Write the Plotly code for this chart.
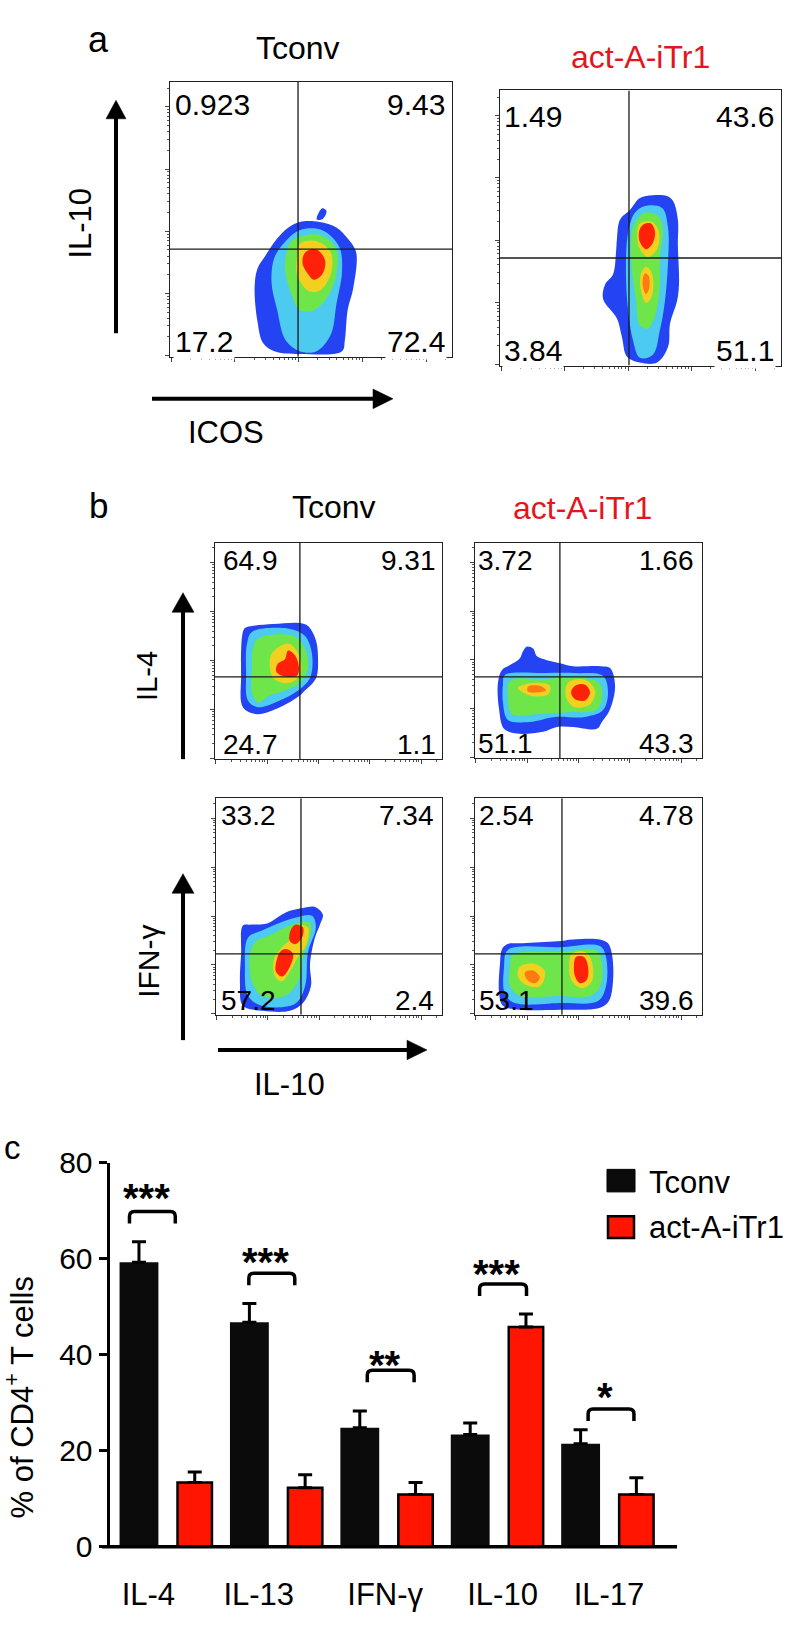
import math
import plotly.graph_objects as go

W, H = 793, 1625
FONT = "Liberation Sans, Arial, Helvetica, sans-serif"
RED_TXT = "#e3161d"

# ---------------- panel c : bar data ----------------
cytokines = ["IL-4", "IL-13", "IFN-γ", "IL-10", "IL-17"]
tconv_mean = [59.2, 46.7, 24.7, 23.3, 21.4]
tconv_sem = [4.3, 3.9, 3.5, 2.4, 2.9]
itr1_mean = [13.3, 12.2, 10.8, 45.7, 10.8]
itr1_sem = [2.2, 2.7, 2.5, 2.7, 3.5]
significance = ["***", "***", "**", "***", "*"]
bracket_top = [69.8, 56.9, 36.7, 54.7, 28.6]
star_level = [74.5, 61.2, 39.6, 58.6, 33.0]
y_ticks = [0, 20, 40, 60, 80]

# ---------------- panels a/b : quadrant frequencies ----------------
aT_quadrants = ["0.923", "9.43", "17.2", "72.4"]
aA_quadrants = ["1.49", "43.6", "3.84", "51.1"]
bT1_quadrants = ["64.9", "9.31", "24.7", "1.1"]
bA1_quadrants = ["3.72", "1.66", "51.1", "43.3"]
bT2_quadrants = ["33.2", "7.34", "57.2", "2.4"]
bA2_quadrants = ["2.54", "4.78", "53.1", "39.6"]

# quadrant gates (x, y) in % of axis
aT_gate = (45.4, 39.1)
aA_gate = (45.9, 39.1)
bT1_gate = (37.4, 38.0)
bA1_gate = (37.4, 37.7)
bT2_gate = (37.6, 28.1)
bA2_gate = (38.3, 28.1)

# density contour outlines (x %, y %)
aT_blue = [(46,49),(53,49),(59,47),(63,43),(66,38),(65,25),(63,17),(62,6),(61,2),(46,1),(37,2),(33,5),(31,13),(30,25),(31,32),(34,37),(38,43),(42,47)]
aT_spike = [(52,50),(54,54),(55.5,53),(54,50)]
aT_cyan = [(46,46),(54,46),(60,40),(61,31),(59,19),(57,8),(52,2),(46,2),(41,6),(38,17),(36,27),(37,36),(41,42)]
aT_green = [(47,44),(54,44),(59,39),(59,30),(56,22),(51,17),(46,17),(43,23),(41,30),(41,36),(43,42)]
aT_yellow = [(46,41),(52,42),(57,38),(57,30),(53,24),(49,24),(45,30),(45,36)]
aT_red = [(48,38),(52,39),(55,35),(54,30),(51,28),(49,30),(47,34)]

aA_blue = [(54.4,61.9),(59.4,61.6),(61.6,59.8),(63.3,53.0),(63.3,43.8),(63.7,29.5),(63.0,23.5),(60.5,15.3),(59.8,6.8),(55.9,1.1),(49.8,1.1),(45.2,3.2),(43.4,10.3),(41.6,17.1),(36.7,24.2),(37.4,29.5),(40.2,33.1),(41.3,41.3),(41.6,45.9),(42.7,53.0),(46.3,56.6),(49.8,60.9)]
aA_cyan = [(51.6,58.0),(57.7,57.3),(59.8,50.2),(59.8,37.7),(58.7,23.5),(56.9,12.8),(54.4,3.9),(49.8,2.8),(47.3,9.3),(45.6,19.9),(44.8,34.2),(45.6,48.4),(48.0,55.5)]
aA_green = [(51.6,55.5),(56.2,54.4),(58.0,49.5),(56.9,39.5),(56.9,28.8),(55.2,18.1),(52.7,13.5),(49.8,14.6),(48.4,23.5),(47.0,34.2),(46.6,43.1),(47.7,51.2)]
aA_yellow_hi = [(49.8,51.6),(54.1,52.3),(56.6,48.4),(55.9,42.3),(52.7,39.5),(49.8,42.3),(48.8,47.7)]
aA_yellow_lo = [(52.0,35.9),(54.1,33.5),(54.1,25.3),(52.0,22.8),(50.2,27.0),(50.2,33.5)]
aA_red_hi = [(50.9,51.2),(53.7,51.6),(55.2,48.4),(54.1,44.1),(52.0,42.3),(49.8,44.8),(49.5,48.8)]
aA_red_lo = [(51.6,33.5),(53.0,32.4),(53.0,27.8),(52.0,26.0),(50.9,28.5),(50.9,32.0)]

bT1_blue = [(14.1,61.1),(25.6,62.4),(37.4,62.9),(41.0,61.5),(44.5,54.8),(45.4,45.7),(44.9,38.5),(43.2,35.3),(39.6,31.7),(37.4,29.4),(28.6,24.0),(18.5,20.8),(12.3,24.0),(11.5,38.5),(11.9,56.6),(12.8,60.2)]
bT1_cyan = [(16.3,58.8),(33.0,60.2),(39.6,57.0),(42.7,48.9),(41.9,37.6),(36.6,31.7),(28.6,27.1),(18.9,24.0),(14.5,27.1),(13.7,39.8),(14.1,53.4)]
bT1_green = [(18.9,55.7),(34.4,57.0),(39.6,51.1),(41.0,42.1),(37.4,35.3),(30.8,31.7),(24.2,29.4),(18.9,26.2),(16.3,30.8),(16.3,42.1),(16.7,51.1)]
bT1_yellow = [(25.1,48.9),(32.2,53.4),(36.6,48.9),(37.9,39.8),(33.0,35.3),(26.4,36.7),(24.2,42.1)]
bT1_red = [(32.2,50.2),(35.2,48.0),(37.0,42.1),(36.1,38.5),(29.5,38.5),(26.9,40.7),(27.8,44.3),(30.8,46.2)]

bA1_blue = [(22.9,51.8),(25.6,50.9),(27.3,47.3),(31.7,45.5),(37.4,44.1),(43.2,42.7),(55.1,42.7),(59.5,41.8),(61.7,33.6),(59.5,22.7),(55.9,16.8),(53.7,13.6),(43.2,14.5),(36.1,14.5),(30.0,12.3),(18.5,11.4),(12.8,13.6),(10.6,22.7),(10.1,35.0),(11.9,40.9),(15.4,43.2),(19.8,46.4),(21.1,49.5)]
bA1_cyan = [(13.2,38.6),(30.8,39.5),(44.1,39.5),(56.4,38.2),(58.6,30.5),(56.4,22.3),(48.5,19.1),(35.2,19.1),(24.2,16.8),(14.5,17.7),(12.3,25.9),(12.3,34.1)]
bA1_green = [(15.4,35.9),(30.8,36.8),(46.3,37.3),(54.6,35.0),(56.0,28.2),(53.3,22.3),(41.9,21.4),(28.6,20.5),(16.3,20.5),(14.5,28.2)]
bA1_yellow_l = [(18.9,32.7),(26.4,35.0),(33.0,33.6),(32.2,29.5),(24.2,29.1)]
bA1_yellow_r = [(41.0,35.0),(48.5,36.4),(52.9,31.4),(50.7,25.0),(44.1,23.6),(40.1,28.2)]
bA1_red_l = [(23.3,33.2),(28.6,33.6),(31.3,31.4),(27.3,30.5),(23.3,30.9)]
bA1_red_r = [(44.1,33.6),(48.5,34.1),(50.7,30.5),(48.5,26.8),(44.1,27.3),(42.3,30.5)]

bT2_blue = [(38.5,49.3),(43.8,49.8),(47.3,46.2),(46.0,41.6),(43.8,35.7),(41.6,23.5),(42.0,13.1),(38.5,5.4),(32.7,1.8),(20.8,1.8),(11.9,4.1),(10.6,14.5),(11.1,28.1),(11.9,41.2),(15.0,41.6),(22.6,42.1),(28.3,45.7),(32.7,48.0)]
bT2_cyan = [(35.0,44.8),(42.5,45.7),(44.2,40.3),(40.7,29.0),(39.4,13.1),(35.0,5.0),(20.4,4.1),(14.2,8.6),(12.8,22.2),(14.2,35.7),(20.4,38.9),(28.3,42.5)]
bT2_green = [(36.3,42.5),(41.6,42.5),(42.0,38.0),(38.5,26.7),(36.3,15.4),(30.5,8.6),(20.4,8.6),(15.9,15.4),(15.0,26.7),(17.3,33.5),(23.9,36.7),(30.5,40.3)]
bT2_yellow = [(35.4,41.2),(40.7,40.3),(39.8,32.1),(36.3,26.7),(32.7,19.9),(29.2,15.4),(26.1,17.6),(25.7,25.8),(29.2,31.2),(33.6,35.7)]
bT2_red_hi = [(35.0,41.6),(38.5,40.3),(38.1,35.7),(35.0,32.6),(32.7,33.9),(32.7,38.0)]
bT2_red_lo = [(31.0,30.3),(34.1,28.1),(32.7,22.2),(29.2,17.6),(26.5,19.9),(27.0,25.8),(28.3,29.0)]

bA2_blue = [(14.1,32.6),(21.1,33.0),(36.1,33.9),(43.2,34.8),(55.1,34.8),(58.6,33.0),(60.4,27.6),(60.8,15.4),(59.0,6.3),(55.1,3.2),(37.4,2.3),(19.8,2.3),(12.3,4.1),(10.6,10.0),(11.0,23.5),(11.9,30.3)]
bA2_cyan = [(14.5,29.9),(37.4,31.2),(55.1,31.7),(57.7,26.7),(57.7,13.1),(54.2,6.3),(37.4,5.4),(17.6,5.4),(13.2,9.5),(12.8,22.2)]
bA2_green = [(16.7,27.6),(37.4,29.0),(53.7,29.4),(55.9,24.4),(55.1,13.1),(50.7,8.6),(37.4,8.6),(19.8,8.6),(15.4,13.1),(15.4,22.2)]
bA2_yellow_l = [(19.8,22.2),(26.4,23.5),(30.8,19.9),(28.6,13.1),(22.0,14.0),(18.9,17.6)]
bA2_yellow_r = [(42.7,28.1),(48.5,29.0),(51.5,24.4),(51.5,15.4),(47.1,12.2),(42.7,15.4),(41.4,22.2)]
bA2_red_l = [(22.0,19.5),(25.6,20.4),(28.6,17.2),(26.4,14.5),(22.9,16.3)]
bA2_red_r = [(44.5,26.7),(48.0,26.7),(49.8,22.2),(49.3,16.3),(46.3,14.5),(44.1,17.6),(43.6,23.1)]

# ---------------- styling ----------------
C_BLUE, C_CYAN, C_GREEN, C_YELLOW, C_ORANGE, C_RED = "#2443f2", "#4ccaf0", "#6ee64a", "#f2d020", "#ff7a10", "#ff2208"
label_offset = [-0.163, -0.163, -0.018, 0.045, 0.009]   # Prism places some category labels off-centre


def X(px):
    return px / W


def Y(py):
    return 1 - py / H


fig = go.Figure()
shapes = []
ann = []
axes = {}

# ---------------- panel c : bars ----------------
idx = list(range(len(cytokines)))
fig.add_trace(go.Bar(
    x=idx, y=tconv_mean, width=0.352, offset=-0.424, name="Tconv",
    marker=dict(color="#0b0b0b", line=dict(width=0)),
    error_y=dict(type="data", symmetric=False, array=tconv_sem, arrayminus=[0] * len(idx),
                 color="black", thickness=3, width=7),
    showlegend=False, xaxis="x", yaxis="y", hoverinfo="skip"))
fig.add_trace(go.Bar(
    x=idx, y=itr1_mean, width=0.312, offset=0.101, name="act-A-iTr1",
    marker=dict(color="#ff1500", line=dict(color="black", width=2.5)),
    error_y=dict(type="data", symmetric=False, array=itr1_sem, arrayminus=[0] * len(idx),
                 color="black", thickness=3, width=7),
    showlegend=False, xaxis="x", yaxis="y", hoverinfo="skip"))

axes["xaxis"] = dict(domain=[X(109.5), X(677)], range=[-0.515, 4.625],
                     tickvals=[i + o for i, o in zip(idx, label_offset)], ticktext=cytokines,
                     ticks="outside", ticklen=20, tickcolor="rgba(0,0,0,0)", showline=False,
                     showgrid=False, zeroline=False, tickfont=dict(family=FONT, size=31, color="black"),
                     anchor="y", fixedrange=True)
axes["yaxis"] = dict(domain=[Y(1562), Y(1170)], range=[0, 80], tickvals=y_ticks, ticks="outside",
                     ticklen=8, tickwidth=3, tickcolor="black", showline=True, linewidth=3,
                     linecolor="black", showgrid=False, zeroline=False,
                     tickfont=dict(family=FONT, size=30, color="black"), anchor="x", fixedrange=True)
shapes.append(dict(type="line", xref="paper", yref="paper", x0=X(102), x1=X(677), y0=Y(1562.5), y1=Y(1562.5),
                   line=dict(color="black", width=3.5)))

bracket_lr = [(-0.334, 0.081), (-0.253, 0.163), (-0.18, 0.244), (-0.163, 0.262), (-0.18, 0.235)]
for i, ((l, r), top, star, sl) in enumerate(zip(bracket_lr, bracket_top, significance, star_level)):
    x1, x2 = i + l, i + r
    yb = top - 2.5
    dx, dy = 0.045, 1.0
    path = (f"M {x1},{yb} L {x1},{top - dy} Q {x1},{top} {x1 + dx},{top} "
            f"L {x2 - dx},{top} Q {x2},{top} {x2},{top - dy} L {x2},{yb}")
    shapes.append(dict(type="path", xref="x", yref="y", path=path, line=dict(color="black", width=3.5)))
    ann.append(dict(x=(x1 + x2) / 2 - 0.055, y=sl, xref="x", yref="y", text=f"<b>{star}</b>", showarrow=False,
                    yshift=-9, font=dict(family=FONT, size=40, color="black"), xanchor="center", yanchor="middle"))

ann.append(dict(x=X(20), y=Y(1410), xref="paper", yref="paper", text="% of CD4<sup>+</sup> T cells",
                textangle=-90, showarrow=False, font=dict(family=FONT, size=31, color="black"),
                xanchor="center", yanchor="middle"))

# legend swatches
shapes.append(dict(type="rect", xref="paper", yref="paper", x0=X(607), x1=X(635), y0=Y(1200), y1=Y(1177),
                   fillcolor="#0b0b0b", line=dict(color="black", width=1)))
shapes.append(dict(type="rect", xref="paper", yref="paper", x0=X(608), x1=X(634), y0=Y(1247), y1=Y(1225),
                   fillcolor="#ff1500", line=dict(color="black", width=2.5)))
for name, cy in zip(["Tconv", "act-A-iTr1"], [1190, 1236]):
    ann.append(dict(x=X(647), y=Y(cy), xref="paper", yref="paper", text=name, showarrow=False,
                    font=dict(family=FONT, size=31, color="black"), xanchor="left", yanchor="middle"))

# ---------------- panels a/b : flow plots ----------------
major = [0.4, 23.0, 45.6, 68.2, 90.8]
minor = [d + 22.6 * math.log10(k) for d in major for k in range(2, 10) if d + 22.6 * math.log10(k) < 100]

plots = [
    dict(n=2, box=(170, 66, 452, 347), q=aT_quadrants, gate=aT_gate, fs=30, sh=(3, -5, -4, -3), bg=True,
         levels=[(C_BLUE, [aT_blue, aT_spike]), (C_CYAN, [aT_cyan]), (C_GREEN, [aT_green]),
                 (C_YELLOW, [aT_yellow]), (C_RED, [aT_red])]),
    dict(n=3, box=(500, 75, 781, 356), q=aA_quadrants, gate=aA_gate, fs=30, sh=(2, -5, -8, -3), bg=True,
         levels=[(C_BLUE, [aA_blue]), (C_CYAN, [aA_cyan]), (C_GREEN, [aA_green]),
                 (C_YELLOW, [aA_yellow_hi, aA_yellow_lo]), (C_RED, [aA_red_hi]), (C_ORANGE, [aA_red_lo])]),
    dict(n=4, box=(215, 537, 442, 758), q=bT1_quadrants, gate=bT1_gate, fs=28, sh=(6, -4, 0, -3), bg=False,
         levels=[(C_BLUE, [bT1_blue]), (C_CYAN, [bT1_cyan]), (C_GREEN, [bT1_green]),
                 (C_YELLOW, [bT1_yellow]), (C_RED, [bT1_red])]),
    dict(n=5, box=(475, 537, 702, 757), q=bA1_quadrants, gate=bA1_gate, fs=28, sh=(1, -6, 0, -3), bg=False,
         levels=[(C_BLUE, [bA1_blue]), (C_CYAN, [bA1_cyan]), (C_GREEN, [bA1_green]),
                 (C_YELLOW, [bA1_yellow_l, bA1_yellow_r]), (C_ORANGE, [bA1_red_l]), (C_RED, [bA1_red_r])]),
    dict(n=6, box=(216, 798, 442, 1019), q=bT2_quadrants, gate=bT2_gate, fs=28, sh=(3, -6, 0, -3), bg=False,
         levels=[(C_BLUE, [bT2_blue]), (C_CYAN, [bT2_cyan]), (C_GREEN, [bT2_green]),
                 (C_YELLOW, [bT2_yellow]), (C_RED, [bT2_red_hi, bT2_red_lo])]),
    dict(n=7, box=(475, 798, 702, 1019), q=bA2_quadrants, gate=bA2_gate, fs=28, sh=(2, -6, 0, -3), bg=False,
         levels=[(C_BLUE, [bA2_blue]), (C_CYAN, [bA2_cyan]), (C_GREEN, [bA2_green]),
                 (C_YELLOW, [bA2_yellow_l, bA2_yellow_r]), (C_ORANGE, [bA2_red_l]), (C_RED, [bA2_red_r])]),
]

for p in plots:
    n = p["n"]
    x0, y0, x1, y1 = p["box"]
    xa, ya = f"x{n}", f"y{n}"
    common = dict(range=[0, 100], showline=True, mirror=True, linecolor="#222", linewidth=1.2,
                  ticks="outside", tickvals=major, ticklen=4, tickwidth=1, tickcolor="#444",
                  showticklabels=False, showgrid=False, zeroline=False, fixedrange=True,
                  minor=dict(tickmode="array", tickvals=minor, ticks="outside", ticklen=2,
                             tickwidth=1, tickcolor="#555", showgrid=False))
    axes[f"xaxis{n}"] = dict(domain=[X(x0), X(x1)], anchor=ya, **common)
    axes[f"yaxis{n}"] = dict(domain=[Y(y1), Y(y0)], anchor=xa, **common)

    for color, polys in p["levels"]:
        for poly in polys:
            xs = [pt[0] for pt in poly]
            ys = [pt[1] for pt in poly]
            fig.add_trace(go.Scatter(x=xs + [xs[0]], y=ys + [ys[0]], mode="lines", fill="toself",
                                     fillcolor=color, line=dict(width=0, shape="spline", smoothing=1.0, color=color),
                                     xaxis=xa, yaxis=ya, hoverinfo="skip", showlegend=False))

    gx, gy = p["gate"]
    shapes.append(dict(type="line", xref=xa, yref=ya, x0=gx, x1=gx, y0=0, y1=100, line=dict(color="#1a1a1a", width=1.3)))
    shapes.append(dict(type="line", xref=xa, yref=ya, x0=0, x1=100, y0=gy, y1=gy, line=dict(color="#1a1a1a", width=1.3)))

    sl, sr, st, sb = p["sh"]
    ul, ur, ll, lr = p["q"]
    qf = dict(family=FONT, size=p["fs"], color="black")
    dx, dy = f"{xa} domain", f"{ya} domain"
    ann.append(dict(x=0, y=1, xref=dx, yref=dy, text=ul, showarrow=False, xanchor="left", yanchor="top",
                    xshift=sl, yshift=st, font=qf))
    ann.append(dict(x=1, y=1, xref=dx, yref=dy, text=ur, showarrow=False, xanchor="right", yanchor="top",
                    xshift=sr, yshift=st, font=qf))
    bgc = "white" if p["bg"] else "rgba(0,0,0,0)"
    ann.append(dict(x=0, y=0, xref=dx, yref=dy, text=ll, showarrow=False, xanchor="left", yanchor="bottom",
                    xshift=sl, yshift=sb, font=qf, bgcolor=bgc))
    ann.append(dict(x=1, y=0, xref=dx, yref=dy, text=lr, showarrow=False, xanchor="right", yanchor="bottom",
                    xshift=sr, yshift=sb, font=qf, bgcolor=bgc))


# ---------------- arrows ----------------
def v_arrow(x, y_base, y_tip, hw=10, hl=19, lw=4):
    shapes.append(dict(type="line", xref="paper", yref="paper", x0=X(x), x1=X(x), y0=Y(y_base), y1=Y(y_tip + hl - 2),
                       line=dict(color="black", width=lw)))
    shapes.append(dict(type="path", xref="paper", yref="paper",
                       path=f"M {X(x - hw)},{Y(y_tip + hl)} L {X(x + hw)},{Y(y_tip + hl)} L {X(x)},{Y(y_tip)} Z",
                       fillcolor="black", line=dict(color="black", width=0.5)))


def h_arrow(y, x_base, x_tip, hw=10, hl=20, lw=4):
    shapes.append(dict(type="line", xref="paper", yref="paper", x0=X(x_base), x1=X(x_tip - hl + 2), y0=Y(y), y1=Y(y),
                       line=dict(color="black", width=lw)))
    shapes.append(dict(type="path", xref="paper", yref="paper",
                       path=f"M {X(x_tip - hl)},{Y(y - hw)} L {X(x_tip - hl)},{Y(y + hw)} L {X(x_tip)},{Y(y)} Z",
                       fillcolor="black", line=dict(color="black", width=0.5)))


v_arrow(116, 323, 85)
h_arrow(390, 152, 393)
v_arrow(183, 758, 588, hw=11, hl=20)
v_arrow(183, 1045, 875, hw=11, hl=20)
h_arrow(1055, 218, 427, hw=10, hl=20)


# ---------------- texts ----------------
def txt(s, x, y, size, color="black", angle=0, xanchor="center"):
    ann.append(dict(x=X(x), y=Y(y), xref="paper", yref="paper", text=s, showarrow=False, textangle=angle,
                    font=dict(family=FONT, size=size, color=color), xanchor=xanchor, yanchor="middle"))


txt("a", 98, 23, 36)
txt("b", 98, 499, 35)
txt("c", 12, 1155, 33)
txt("Tconv", 298, 32, 32)
txt("act-A-iTr1", 640, 41, 32, RED_TXT)
txt("Tconv", 334, 500, 32)
txt("act-A-iTr1", 582, 501, 32, RED_TXT)
txt("IL-10", 81, 211, 31, angle=-90)
txt("ICOS", 226, 424, 31)
txt("IL-4", 147, 673, 29, angle=-90)
txt("IFN-γ", 149, 965, 30, angle=-90)
txt("IL-10", 289, 1090, 31)

fig.update_layout(
    width=W, height=H, autosize=False,
    margin=dict(l=0, r=0, t=0, b=0),
    paper_bgcolor="white", plot_bgcolor="rgba(0,0,0,0)",
    barmode="overlay", showlegend=False,
    shapes=shapes, annotations=ann,
    font=dict(family=FONT, color="black"),
    **axes,
)

# remove the default 8px page margin so the 793x1625 figure fills the window exactly
fig.write_html("out.html", config={"displayModeBar": False},
               post_script="document.body.style.margin='0px';document.body.style.overflow='hidden';")
